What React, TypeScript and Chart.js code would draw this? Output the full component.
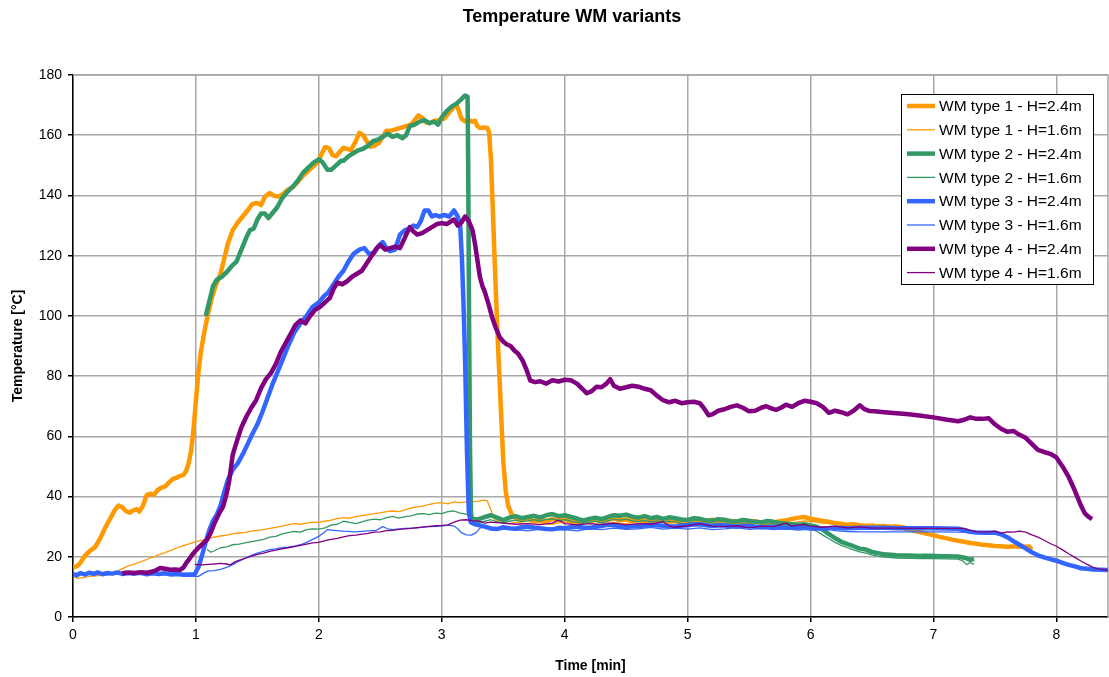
import React, { useEffect, useRef } from "react";
import { Chart, registerables } from "chart.js";
Chart.register(...registerables);

type P = [number, number];

const chartTitle = "Temperature WM variants";
const xTitle = "Time [min]";
const yTitle = "Temperature [°C]";
const xMin = 0;
const xMax = 8.42;
const xStep = 1;
const yMin = 0;
const yMax = 180;
const yStep = 20;

const seriesLabels = [
  "WM type 1 - H=2.4m",
  "WM type 1 - H=1.6m",
  "WM type 2 - H=2.4m",
  "WM type 2 - H=1.6m",
  "WM type 3 - H=2.4m",
  "WM type 3 - H=1.6m",
  "WM type 4 - H=2.4m",
  "WM type 4 - H=1.6m",
];
const seriesColors = ["#FF9900", "#FF9900", "#339966", "#339966", "#3366FF", "#3366FF", "#800080", "#800080"];
const seriesWidths = [4.5, 1.3, 4.5, 1.3, 4.5, 1.3, 4.5, 1.3];

const wm1H24: P[] = [
  [0,16.5],[0.03,16.8],[0.06,18],[0.1,20.5],[0.14,22],[0.18,23.2],[0.22,26],[0.26,29.5],[0.3,32.5],[0.34,35.5],[0.37,37],[0.4,36.5],[0.43,35.2],[0.46,34.6],[0.49,35.4],[0.52,35.8],[0.54,35],[0.57,37],[0.6,40.5],[0.63,41],[0.66,40.6],[0.69,42.2],[0.72,43],[0.75,43.4],[0.78,44.6],[0.81,45.8],[0.84,46.2],[0.87,46.8],[0.9,47.2],[0.92,48.5],[0.94,51],[0.96,55],[0.98,62],[1.0,72],[1.02,81],[1.04,88],[1.07,95],[1.1,101],[1.13,106],[1.16,110],[1.2,114],[1.23,119],[1.26,124],[1.3,128.5],[1.34,131],[1.38,133],[1.42,135],[1.46,137.2],[1.5,137.5],[1.53,136.8],[1.56,139.5],[1.6,140.8],[1.63,140],[1.67,139.6],[1.71,140.5],[1.75,142],[1.79,142.8],[1.83,144.5],[1.87,146.5],[1.91,148],[1.95,149.5],[1.99,151],[2.02,153.5],[2.05,156],[2.08,155.8],[2.11,153.5],[2.14,153],[2.17,154.5],[2.2,155.8],[2.23,155.5],[2.26,155],[2.3,158],[2.33,160.8],[2.36,160],[2.39,158],[2.42,156.2],[2.45,156.5],[2.49,157.5],[2.52,159.5],[2.55,161.5],[2.59,161.5],[2.63,162],[2.67,162.5],[2.71,163],[2.75,163.5],[2.78,165],[2.81,166.6],[2.84,165.8],[2.87,164.3],[2.9,164],[2.94,164.8],[2.98,165],[3.02,165.5],[3.06,167.5],[3.1,169.5],[3.12,170.2],[3.14,168],[3.16,165.5],[3.19,164.6],[3.22,165],[3.25,164.5],[3.27,164.8],[3.29,163],[3.31,162.4],[3.34,162.6],[3.37,162.4],[3.385,161],[3.4,152],[3.42,130],[3.44,108],[3.46,88],[3.48,70],[3.5,52],[3.52,42],[3.54,37],[3.57,34],[3.6,32.8],[3.65,32.2],[3.7,32.6],[3.75,31.9],[3.8,32.4],[3.85,31.8],[3.9,32.5],[3.95,32.1],[4.0,32.7],[4.05,31.8],[4.1,31.5],[4.15,32.2],[4.2,31.9],[4.25,32.4],[4.3,31.7],[4.35,32.3],[4.4,32.8],[4.45,32.1],[4.5,32.4],[4.55,31.9],[4.6,32.5],[4.65,32],[4.7,31.6],[4.75,32.2],[4.8,32.4],[4.85,31.8],[4.9,32.1],[4.95,31.6],[5.0,31.4],[5.05,31.9],[5.1,32.1],[5.15,31.6],[5.2,32.3],[5.25,31.7],[5.3,31.5],[5.35,31.9],[5.4,31.6],[5.45,31.2],[5.5,31.5],[5.55,31.8],[5.6,31.3],[5.65,31.6],[5.7,31.4],[5.75,31.8],[5.8,32.1],[5.85,32.6],[5.9,33],[5.95,33.2],[6.0,32.6],[6.05,32.3],[6.1,31.9],[6.15,31.6],[6.2,31.2],[6.25,31],[6.3,30.6],[6.35,30.8],[6.4,30.5],[6.45,30.3],[6.5,30.4],[6.55,30.1],[6.6,30.2],[6.65,30],[6.7,30.1],[6.75,29.8],[6.8,29.2],[6.85,28.6],[6.9,28.2],[6.95,27.6],[7.0,27.2],[7.05,26.6],[7.1,26.2],[7.15,25.7],[7.2,25.3],[7.25,25],[7.3,24.6],[7.35,24.3],[7.4,24],[7.45,23.8],[7.5,23.6],[7.55,23.5],[7.6,23.3],[7.65,23.4],[7.7,23.5],[7.75,23.3],[7.78,23.4],[7.8,22.4],
];

const wm1H16: P[] = [
  [0,13.5],[0.04,12.8],[0.08,13.1],[0.12,13.4],[0.18,13.7],[0.24,13.8],[0.3,14.2],[0.35,15],[0.4,16],[0.45,17],[0.5,17.6],[0.55,18.3],[0.6,19.1],[0.65,19.9],[0.7,20.7],[0.75,21.4],[0.8,22.2],[0.85,23],[0.9,23.7],[0.95,24.4],[1.0,25],[1.05,25.5],[1.1,26],[1.15,26.5],[1.2,26.9],[1.25,27.2],[1.3,27.6],[1.35,27.9],[1.4,28.1],[1.45,28.5],[1.5,28.8],[1.55,29],[1.6,29.4],[1.65,29.8],[1.7,30.2],[1.75,30.6],[1.8,31],[1.85,30.8],[1.9,31.2],[1.95,31.5],[2.0,31.4],[2.05,31.8],[2.1,32.2],[2.15,32.7],[2.2,33],[2.25,32.8],[2.3,33.3],[2.35,33.7],[2.4,34],[2.45,34.3],[2.5,34.6],[2.55,35],[2.6,35.2],[2.65,35],[2.7,35.6],[2.75,36.2],[2.8,36.6],[2.85,36.9],[2.9,37.4],[2.95,37.8],[3.0,38],[3.05,37.6],[3.1,38.2],[3.15,38],[3.2,38.2],[3.25,38.3],[3.3,38.5],[3.35,38.8],[3.37,38.6],[3.4,35.5],[3.43,32.3],[3.47,31.6],[3.5,31.3],[3.55,31],[3.6,31.5],[3.65,31.2],[3.7,31],[3.75,31.4],[3.8,31.3],[3.85,30.9],[3.9,30.8],[3.95,31.3],[4.0,31.5],[4.05,31.1],[4.1,31],[4.15,31.4],[4.2,31.3],[4.25,30.9],[4.3,30.8],[4.35,31.2],[4.4,31.4],[4.45,31.1],[4.5,31],[4.55,31.4],[4.6,31.6],[4.65,31.2],[4.7,31.1],[4.75,31.5],[4.8,31.4],[4.85,30.9],[4.9,30.8],[4.95,31.1],[5.0,31.2],[5.05,30.8],[5.1,30.9],[5.15,31.3],[5.2,31.3],[5.25,30.9],[5.3,30.8],[5.35,31],[5.4,31],[5.45,30.6],[5.5,30.7],[5.55,31],[5.6,31.1],[5.65,30.7],[5.7,30.6],[5.75,30.9],[5.8,31],[5.85,31.3],[5.9,31.6],[5.95,31.9],[6.0,31.8],[6.05,31.5],[6.1,31.2],[6.15,31],[6.2,30.8],[6.25,30.5],[6.3,30.3],[6.35,30.2],[6.4,30],[6.45,29.9],[6.5,29.8],[6.55,29.7],[6.6,29.6],[6.65,29.6],[6.7,29.5],[6.75,29],[6.8,28.5],[6.85,28],[6.9,27.6],[6.95,27.2],[7.0,26.8],[7.05,26.4],[7.1,26],[7.15,25.6],[7.2,25.3],[7.25,24.9],[7.3,24.6],[7.35,24.3],[7.4,24],[7.45,23.7],[7.5,23.5],[7.55,23.3],[7.6,23.2],[7.65,23.1],[7.7,23],[7.75,22.9],[7.78,22.8],
];

const wm2H24: P[] = [
  [1.08,100],[1.11,105],[1.14,110],[1.17,112],[1.21,113],[1.25,114.5],[1.29,116.5],[1.33,118],[1.37,122],[1.41,126],[1.44,128.5],[1.47,129],[1.5,132],[1.53,134],[1.56,134],[1.59,132.5],[1.62,134],[1.66,136],[1.7,139],[1.74,141],[1.79,143],[1.83,145],[1.87,147.5],[1.92,149.5],[1.96,151],[2.0,152],[2.03,151],[2.07,148.5],[2.1,148.5],[2.14,150],[2.18,151.5],[2.2,151.5],[2.24,153],[2.28,154],[2.32,155],[2.36,155.5],[2.4,156.5],[2.44,158],[2.48,158.5],[2.52,159.5],[2.56,160.5],[2.6,159.5],[2.64,160],[2.68,159],[2.71,160],[2.74,163],[2.78,163.5],[2.82,164.5],[2.86,165],[2.9,164],[2.94,164.5],[2.97,163.5],[3.0,166],[3.04,168],[3.08,169.5],[3.12,170.5],[3.16,172],[3.19,173.2],[3.21,172.8],[3.215,150],[3.222,100],[3.23,55],[3.238,34],[3.25,32.5],[3.3,32.5],[3.35,33.2],[3.4,33.8],[3.45,33],[3.5,32.2],[3.55,33],[3.6,33.5],[3.65,32.8],[3.7,33.2],[3.75,33.6],[3.8,33],[3.85,33.8],[3.9,34.2],[3.95,33.5],[4.0,33.8],[4.05,33.2],[4.1,32.7],[4.15,32],[4.2,32.6],[4.25,33],[4.3,32.5],[4.35,33.2],[4.4,33.8],[4.45,33.6],[4.5,34],[4.55,33.3],[4.6,33],[4.65,33.5],[4.7,32.8],[4.75,33.2],[4.8,32.6],[4.85,33.1],[4.9,32.8],[4.95,32.4],[5.0,32.2],[5.05,32.8],[5.1,32.6],[5.15,32.1],[5.2,32],[5.25,32.5],[5.3,32.3],[5.35,31.8],[5.4,31.7],[5.45,32.2],[5.5,32],[5.55,31.6],[5.6,31.4],[5.65,31.9],[5.7,31.6],[5.75,31.2],[5.8,31],[5.85,30.8],[5.9,30.6],[5.95,30.8],[6.0,30.4],[6.05,30],[6.1,29],[6.15,27.5],[6.2,26.2],[6.25,25],[6.3,24.2],[6.35,23.5],[6.4,22.7],[6.45,22.4],[6.5,21.6],[6.55,21.2],[6.6,20.8],[6.7,20.5],[6.8,20.4],[6.9,20.3],[7.0,20.3],[7.1,20.2],[7.2,20.1],[7.26,19.6],[7.3,19],[7.33,19.3],
];

const wm2H16: P[] = [
  [1.09,22.5],[1.12,21.5],[1.15,22],[1.2,23],[1.25,23.3],[1.3,24],[1.35,24.2],[1.4,24.6],[1.45,25],[1.5,25.4],[1.55,25.8],[1.6,26.5],[1.65,26.8],[1.7,27.6],[1.75,28],[1.8,28.4],[1.85,28.2],[1.9,29],[1.95,29.3],[2.0,29.2],[2.05,29.6],[2.1,30.5],[2.15,30.8],[2.2,31.8],[2.25,31.4],[2.3,31],[2.35,31.6],[2.4,32.2],[2.45,32.5],[2.5,32.3],[2.55,33],[2.6,33.4],[2.65,32.8],[2.7,33.3],[2.75,33.6],[2.8,34.2],[2.85,34.3],[2.9,34],[2.95,34.5],[3.0,34.3],[3.05,35],[3.1,35.2],[3.15,34.5],[3.2,34.2],[3.23,33.2],[3.26,31.8],[3.3,31.4],[3.35,31.8],[3.4,32.3],[3.45,31.6],[3.5,31.2],[3.55,31.8],[3.6,32.2],[3.65,31.7],[3.7,31.9],[3.75,32.3],[3.8,31.8],[3.85,32.4],[3.9,32.6],[3.95,32],[4.0,32.3],[4.05,31.8],[4.1,31.4],[4.15,31],[4.2,31.5],[4.25,31.8],[4.3,31.3],[4.35,31.9],[4.4,32.4],[4.45,32.2],[4.5,32.5],[4.55,31.9],[4.6,31.7],[4.65,32.1],[4.7,31.6],[4.75,31.9],[4.8,31.4],[4.85,31.8],[4.9,31.5],[4.95,31.1],[5.0,31],[5.05,31.5],[5.1,31.3],[5.15,30.9],[5.2,30.8],[5.25,31.2],[5.3,31],[5.35,30.6],[5.4,30.5],[5.45,30.9],[5.5,30.7],[5.55,30.4],[5.6,30.2],[5.65,30.6],[5.7,30.4],[5.75,30],[5.8,29.8],[5.85,29.7],[5.9,29.6],[5.95,29.5],[6.0,29.2],[6.05,28.5],[6.1,27.2],[6.15,26],[6.2,24.8],[6.25,23.8],[6.3,23],[6.35,22.3],[6.4,21.6],[6.45,21.2],[6.5,20.6],[6.55,20.2],[6.6,19.9],[6.7,19.6],[6.8,19.5],[6.9,19.4],[7.0,19.4],[7.1,19.3],[7.2,19.2],[7.24,18.6],[7.27,17.4],[7.3,18.1],[7.33,17.5],
];

const wm3H24: P[] = [
  [0,14.2],[0.03,13.8],[0.06,14.6],[0.1,14.1],[0.13,14.7],[0.17,14.3],[0.2,14.8],[0.24,14.2],[0.28,14.6],[0.32,14.4],[0.36,14.8],[0.4,14.3],[0.45,14.6],[0.5,14.4],[0.55,14.7],[0.6,14.2],[0.65,14.5],[0.7,14.3],[0.75,14.5],[0.8,14.1],[0.85,14.3],[0.9,14],[0.95,14.1],[0.99,14.2],[1.02,16.5],[1.05,20.5],[1.08,25],[1.11,29],[1.14,32],[1.17,34],[1.2,37],[1.23,41.5],[1.26,45.5],[1.3,49],[1.34,51],[1.38,54],[1.41,56.5],[1.45,60],[1.5,64],[1.54,68],[1.58,72.5],[1.62,77],[1.66,81],[1.7,85],[1.75,90],[1.8,94.5],[1.85,97.5],[1.9,100],[1.95,103],[2.0,104.5],[2.04,106.5],[2.08,108],[2.12,110.5],[2.16,113],[2.2,115],[2.24,118],[2.28,120.5],[2.33,122],[2.37,122.5],[2.41,120.5],[2.45,121],[2.49,123.5],[2.52,124.5],[2.55,122.5],[2.58,121.5],[2.62,122],[2.66,127],[2.7,128.5],[2.74,129],[2.77,130],[2.8,129.5],[2.83,131.5],[2.86,135],[2.89,135],[2.92,133],[2.95,133.5],[2.98,133],[3.02,133.5],[3.06,133],[3.1,135],[3.13,133],[3.15,130],[3.165,118],[3.18,100],[3.19,85],[3.205,55],[3.22,35],[3.235,31.5],[3.27,30.8],[3.3,30.5],[3.35,30],[3.4,29.4],[3.45,29.2],[3.5,29.8],[3.55,29.5],[3.6,29.3],[3.65,29.8],[3.7,30],[3.75,29.7],[3.8,29.5],[3.85,29.2],[3.9,29.1],[3.95,29.6],[4.0,29.5],[4.05,29.8],[4.1,30],[4.15,29.7],[4.2,29.6],[4.25,30],[4.3,30.2],[4.35,30.6],[4.4,30.5],[4.45,30.1],[4.5,29.8],[4.55,30.2],[4.6,30.1],[4.65,30.4],[4.7,30.6],[4.75,30.5],[4.8,30.3],[4.85,30.1],[4.9,30],[4.95,30.3],[5.0,30.5],[5.05,30.7],[5.1,30.8],[5.15,30.5],[5.2,30.2],[5.25,30.4],[5.3,30.5],[5.35,30.2],[5.4,30],[5.45,30.2],[5.5,30.3],[5.55,30],[5.6,29.8],[5.65,29.9],[5.7,30],[5.75,29.8],[5.8,29.6],[5.85,29.8],[5.9,29.9],[5.95,29.6],[6.0,29.4],[6.05,29.5],[6.1,29.3],[6.15,29.5],[6.2,29.6],[6.3,29.5],[6.4,29.6],[6.5,29.6],[6.6,29.6],[6.7,29.5],[6.8,29.5],[6.9,29.5],[7.0,29.5],[7.1,29.4],[7.2,29.3],[7.25,28.8],[7.3,28.3],[7.35,28.1],[7.4,28],[7.45,28],[7.5,28],[7.55,27.5],[7.6,26.5],[7.65,25.2],[7.7,24],[7.75,22.8],[7.8,21.5],[7.85,20.5],[7.9,19.8],[7.95,19.2],[8.0,18.7],[8.05,18],[8.1,17.3],[8.15,16.8],[8.2,16.2],[8.25,16],[8.3,15.8],[8.36,15.7],[8.42,15.6],
];

const wm3H16: P[] = [
  [0,14.4],[0.05,14.6],[0.1,14.2],[0.15,14.4],[0.2,14.5],[0.25,14.2],[0.3,14.1],[0.35,14.4],[0.4,14.3],[0.45,14.5],[0.5,14.2],[0.55,14.3],[0.6,14.4],[0.65,14.2],[0.7,14.1],[0.75,14.3],[0.8,14.2],[0.85,14],[0.9,13.8],[0.94,13.6],[0.97,13.5],[1.02,13.5],[1.06,14.5],[1.1,15.3],[1.15,15.4],[1.2,15.8],[1.25,16.5],[1.3,17.4],[1.35,18.5],[1.4,19.5],[1.45,20.5],[1.5,21.2],[1.55,21.8],[1.6,22.4],[1.65,22.6],[1.7,23],[1.75,23.2],[1.8,23.5],[1.85,24],[1.9,24.8],[1.95,25.8],[2.0,26.8],[2.04,28],[2.07,29],[2.12,28.8],[2.2,28.5],[2.3,28.3],[2.4,28.6],[2.47,28.8],[2.52,30],[2.56,29.3],[2.6,29],[2.7,29.4],[2.8,29.6],[2.9,30],[3.0,30.2],[3.05,30.5],[3.1,30.2],[3.13,29.3],[3.16,28],[3.2,27.3],[3.24,27.2],[3.28,28],[3.31,29.5],[3.35,30],[3.4,29.5],[3.5,29.2],[3.6,29],[3.7,28.6],[3.8,29.2],[3.9,28.8],[4.0,29],[4.1,28.6],[4.2,29.3],[4.3,29],[4.4,29.5],[4.5,29.1],[4.6,29.3],[4.7,29.8],[4.8,29.2],[4.9,29.5],[5.0,29.2],[5.1,29.6],[5.2,29],[5.3,29.3],[5.4,29.7],[5.5,29.1],[5.6,29.4],[5.7,29],[5.8,29.3],[5.9,28.9],[6.0,29.2],[6.1,29.6],[6.2,28.7],[6.3,28.4],[6.4,28.3],[6.6,28.3],[6.8,28.3],[7.0,28.3],[7.2,28.2],[7.3,28],[7.4,27.8],[7.5,27.7],[7.55,27],[7.6,26.2],[7.65,25],[7.7,24],[7.75,22.6],[7.8,21.4],[7.85,20.4],[7.9,19.6],[7.95,18.9],[8.0,18.3],[8.05,17.7],[8.1,17.2],[8.15,16.6],[8.2,16.2],[8.25,15.9],[8.3,15.7],[8.36,15.5],[8.42,15.4],
];

const wm4H24: P[] = [
  [0.4,14.5],[0.45,14.8],[0.5,14.6],[0.55,14.9],[0.6,14.7],[0.65,15.1],[0.68,15.6],[0.71,16.3],[0.75,16],[0.79,15.7],[0.83,15.8],[0.87,15.6],[0.9,16.5],[0.92,17.9],[0.95,19.5],[0.98,21.2],[1.02,23],[1.06,24.5],[1.09,25.6],[1.12,28],[1.15,31],[1.19,34.5],[1.22,36.6],[1.25,41],[1.27,45],[1.3,54],[1.33,58],[1.37,63],[1.41,66.5],[1.45,69.5],[1.49,72],[1.53,76],[1.57,79],[1.61,81],[1.65,84],[1.69,88],[1.73,91],[1.77,94],[1.81,97],[1.85,98.5],[1.89,97.5],[1.93,100],[1.97,102],[2.01,103],[2.05,104.5],[2.09,106],[2.12,109],[2.15,111],[2.19,110.5],[2.23,111.5],[2.27,113],[2.31,114],[2.35,115],[2.39,117.5],[2.43,120],[2.47,122.5],[2.5,123.5],[2.54,122],[2.58,122.5],[2.62,123],[2.66,122.5],[2.7,126],[2.74,129.5],[2.77,128],[2.8,127],[2.84,127.5],[2.88,128.5],[2.92,129.5],[2.96,130.5],[3.0,130.8],[3.04,130.5],[3.08,131.5],[3.1,132],[3.13,130],[3.16,131],[3.19,133],[3.22,131.5],[3.25,128.5],[3.27,124],[3.29,118.5],[3.31,113],[3.33,110],[3.35,108],[3.38,104],[3.41,99.5],[3.44,96],[3.47,93],[3.5,91.5],[3.53,90.5],[3.56,90],[3.59,88.5],[3.62,87.5],[3.66,85],[3.69,82],[3.72,78.5],[3.76,78],[3.8,78.3],[3.85,77.5],[3.9,78.6],[3.95,78.2],[4.0,78.8],[4.05,78.6],[4.1,77.5],[4.15,75.5],[4.18,74.3],[4.22,75],[4.26,76.5],[4.3,76.3],[4.34,77.5],[4.37,79],[4.4,76.8],[4.45,75.8],[4.5,76.3],[4.55,76.8],[4.6,76.5],[4.65,75.8],[4.7,75.3],[4.75,73.5],[4.8,72],[4.85,71.3],[4.9,71.8],[4.95,71],[5.0,71.3],[5.05,71.5],[5.1,71],[5.13,69.5],[5.17,67],[5.2,67.3],[5.25,68.5],[5.3,69],[5.35,69.8],[5.4,70.3],[5.45,69.5],[5.5,68.3],[5.55,68.5],[5.6,69.5],[5.64,70],[5.68,69.3],[5.72,68.8],[5.76,69.5],[5.8,70.5],[5.85,69.8],[5.9,71],[5.95,71.8],[6.0,71.5],[6.05,71],[6.1,69.8],[6.15,67.8],[6.2,68.5],[6.25,68],[6.3,67.3],[6.35,68.5],[6.4,70.3],[6.44,69],[6.48,68.4],[6.52,68.3],[6.6,68],[6.7,67.7],[6.8,67.3],[6.9,66.8],[7.0,66.3],[7.1,65.6],[7.2,65],[7.25,65.5],[7.3,66.3],[7.35,65.8],[7.4,65.8],[7.45,66],[7.5,64],[7.55,62.5],[7.6,61.5],[7.65,61.8],[7.7,60.5],[7.75,59.5],[7.8,57.5],[7.85,55.5],[7.9,54.8],[7.95,54.2],[8.0,53],[8.05,50],[8.1,46.5],[8.15,42],[8.2,37],[8.23,34.5],[8.26,33.3],[8.29,32.5],
];

const wm4H16: P[] = [
  [0.99,17.5],[1.05,17.3],[1.1,17.5],[1.15,17.6],[1.2,17.8],[1.25,17.6],[1.28,17.3],[1.32,18.4],[1.36,19],[1.41,19.6],[1.46,20.3],[1.5,20.8],[1.55,21.2],[1.6,21.8],[1.65,22.2],[1.7,22.6],[1.75,23],[1.8,23.4],[1.85,23.8],[1.9,24.2],[1.95,24.6],[2.0,24.8],[2.05,25.4],[2.1,25.8],[2.15,26.1],[2.2,26.6],[2.25,27],[2.3,27.2],[2.35,27.5],[2.4,27.8],[2.45,28.2],[2.5,28.3],[2.55,28.7],[2.6,28.8],[2.65,29.1],[2.7,29.3],[2.75,29.4],[2.8,29.7],[2.85,29.9],[2.9,30.1],[2.95,30.3],[3.0,30.4],[3.05,30.6],[3.1,31.5],[3.15,32.2],[3.2,32.3],[3.25,32],[3.3,31.8],[3.35,31.2],[3.4,31.5],[3.5,31.2],[3.6,30.8],[3.7,31],[3.8,30.7],[3.9,31.2],[3.95,32.2],[4.0,31],[4.1,30.6],[4.2,31],[4.3,30.7],[4.4,31.2],[4.5,30.6],[4.6,31],[4.7,30.8],[4.8,31.7],[4.85,30.2],[4.9,29.8],[5.0,30.3],[5.1,31],[5.2,30.2],[5.3,30],[5.4,30.3],[5.5,29.6],[5.6,30.2],[5.7,30],[5.8,31.2],[5.85,30.2],[5.9,30.5],[5.95,30.8],[6.0,30.2],[6.1,29.8],[6.2,30.2],[6.3,29.6],[6.4,29.9],[6.5,29.5],[6.7,29.5],[7.0,29.4],[7.25,29.4],[7.3,28.8],[7.35,28.3],[7.45,28.3],[7.5,28.5],[7.55,27.8],[7.6,28.3],[7.65,28.2],[7.7,28.5],[7.75,28.2],[7.8,27.3],[7.85,26.5],[7.9,25.5],[7.95,24.4],[8.0,23.5],[8.05,22.3],[8.1,21],[8.15,19.8],[8.2,18.6],[8.25,17.5],[8.3,16.5],[8.35,15.9],[8.42,15.6],
];

const seriesData: P[][] = [wm1H24, wm1H16, wm2H24, wm2H16, wm3H24, wm3H16, wm4H24, wm4H16];

const FONT = '"Liberation Sans", Arial, Helvetica, sans-serif';

const framePlugin = {
  id: "frame",
  beforeDatasetsDraw(chart: any) {
    const { ctx, chartArea } = chart;
    ctx.save();
    ctx.strokeStyle = "#a8a8a8";
    ctx.lineWidth = 1.5;
    ctx.beginPath();
    ctx.moveTo(chartArea.left, chartArea.top);
    ctx.lineTo(chartArea.right, chartArea.top);
    ctx.lineTo(chartArea.right, chartArea.bottom);
    ctx.stroke();
    ctx.restore();
  },
};

const titlePlugin = {
  id: "topTitle",
  afterDraw(chart: any) {
    const { ctx } = chart;
    ctx.save();
    ctx.fillStyle = "#000";
    ctx.font = `bold 18px ${FONT}`;
    ctx.textAlign = "center";
    ctx.textBaseline = "middle";
    ctx.fillText(chartTitle, 572, 17);
    ctx.restore();
  },
};

const legendPlugin = {
  id: "boxLegend",
  afterDraw(chart: any) {
    const { ctx } = chart;
    const x0 = 901, y0 = 94, w = 192, h = 190;
    ctx.save();
    ctx.fillStyle = "#fff";
    ctx.fillRect(x0, y0, w, h);
    ctx.strokeStyle = "#000";
    ctx.lineWidth = 1;
    ctx.strokeRect(x0 + 0.5, y0 + 0.5, w, h);
    chart.data.datasets.forEach((ds: any, i: number) => {
      const cy = y0 + 12 + i * 23.8;
      ctx.strokeStyle = ds.borderColor;
      ctx.lineWidth = ds.borderWidth;
      ctx.beginPath();
      ctx.moveTo(x0 + 6, cy);
      ctx.lineTo(x0 + 34, cy);
      ctx.stroke();
      ctx.fillStyle = "#000";
      ctx.font = `15.5px ${FONT}`;
      ctx.textAlign = "left";
      ctx.textBaseline = "middle";
      ctx.fillText(ds.label, x0 + 38, cy + 1);
    });
    ctx.restore();
  },
};

export default function App() {
  const ref = useRef<HTMLCanvasElement | null>(null);
  useEffect(() => {
    document.body.style.margin = "0";
    const canvas = ref.current;
    if (!canvas) return;
    const datasets = seriesData.map((pts, i) => ({
      label: seriesLabels[i],
      data: pts.map(([x, y]) => ({ x, y })),
      borderColor: seriesColors[i],
      backgroundColor: seriesColors[i],
      borderWidth: seriesWidths[i],
      pointRadius: 0,
      tension: 0,
      fill: false,
      order: seriesData.length - i,
      borderJoinStyle: "round" as const,
    }));
    const chart = new Chart(canvas, {
      type: "line",
      data: { datasets },
      plugins: [framePlugin, legendPlugin, titlePlugin],
      options: {
        animation: false,
        responsive: false,
        devicePixelRatio: 1,
        parsing: false as any,
        layout: { padding: { top: 75, right: 1, left: 0, bottom: 0 } },
        plugins: { legend: { display: false }, title: { display: false }, tooltip: { enabled: false } },
        scales: {
          x: {
            type: "linear",
            min: xMin,
            max: xMax,
            afterFit: (s: any) => { s.height = 60; },
            ticks: { stepSize: xStep, includeBounds: false, color: "#000", font: { family: FONT, size: 14 }, padding: 5, maxRotation: 0 },
            grid: { color: "#a8a8a8", lineWidth: 1.5, tickColor: "#000", tickLength: 5 },
            border: { color: "#000", width: 1.5 },
            title: { display: true, text: xTitle, color: "#000", font: { family: FONT, size: 14, weight: "bold" }, padding: { top: 0, bottom: 2 } },
          },
          y: {
            type: "linear",
            min: yMin,
            max: yMax,
            afterFit: (s: any) => { s.width = 73; },
            ticks: { stepSize: yStep, color: "#000", font: { family: FONT, size: 14 }, padding: 6 },
            grid: { color: "#a8a8a8", lineWidth: 1.5, tickColor: "#000", tickLength: 5 },
            border: { color: "#000", width: 1.5 },
            title: { display: true, text: yTitle, color: "#000", font: { family: FONT, size: 14, weight: "bold" }, padding: { top: 10, bottom: 0 } },
          },
        },
      },
    });
    return () => chart.destroy();
  }, []);
  return (
    <div style={{ width: 1109, height: 677 }}>
      <canvas ref={ref} width={1109} height={677} style={{ display: "block" }} />
    </div>
  );
}
